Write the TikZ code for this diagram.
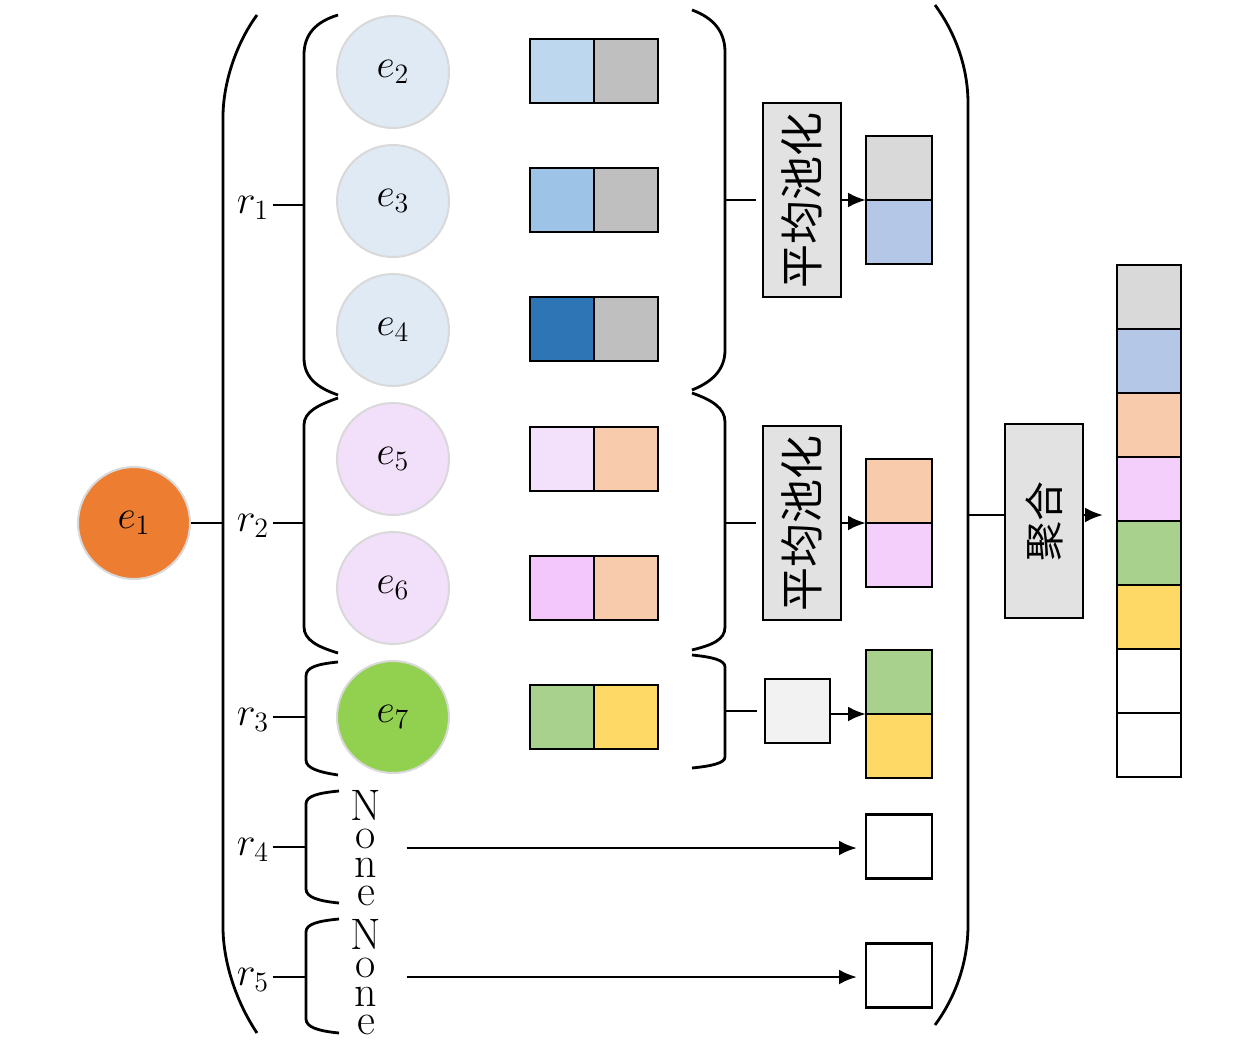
\RequirePackage{fix-cm}
\documentclass[tikz,border=0pt]{standalone}
\usepackage{fontspec}
\newfontfamily\cjk{Noto Sans CJK SC}
\usetikzlibrary{arrows.meta}
\definecolor{entborder}{HTML}{D9D9D9}
\definecolor{eorange}{HTML}{ED7D31}
\definecolor{eblue}{HTML}{DFEAF5}
\definecolor{epink}{HTML}{F2E0FB}
\definecolor{egreen}{HTML}{92D050}
\definecolor{cblueA}{HTML}{BDD7EE}
\definecolor{cblueB}{HTML}{9DC3E6}
\definecolor{cblueC}{HTML}{2E75B6}
\definecolor{cgray}{HTML}{BFBFBF}
\definecolor{cpinkA}{HTML}{F3E1FC}
\definecolor{cpinkB}{HTML}{F4C7FC}
\definecolor{cpeach}{HTML}{F8CBAD}
\definecolor{cgreen}{HTML}{A9D18E}
\definecolor{cyellow}{HTML}{FFD966}
\definecolor{ogray}{HTML}{D9D9D9}
\definecolor{oblue}{HTML}{B4C7E7}
\definecolor{opink}{HTML}{F4CFFB}
\definecolor{poolgray}{HTML}{E2E2E2}
\definecolor{boxlight}{HTML}{F2F2F2}
\begin{document}
\begin{tikzpicture}[x=0.5pt,y=-0.5pt,line width=1.4pt,
  ent/.style={circle,draw=entborder,line width=1pt,minimum size=56pt,inner sep=0pt,font=\fontsize{20}{24}\selectfont},
  cell/.style={draw=black,line width=1.4pt,minimum width=32pt,minimum height=32pt,inner sep=0pt,outer sep=0pt},
  ocell/.style={cell,minimum width=33pt},
  rlab/.style={inner sep=1pt,font=\fontsize{20}{24}\selectfont},
  nonelab/.style={align=center,inner sep=0pt,font=\fontsize{22}{14.25}\selectfont},
  pool/.style={draw=black,line width=1.4pt,fill=poolgray,minimum width=39pt,minimum height=97pt,inner sep=0pt,font=\fontsize{22}{26}\cjk},
  arr/.style={-{Latex[length=9pt,width=7.5pt]}},
]
\useasboundingbox (0,0) rectangle (1260,1044);

% central entity
\node[ent,fill=eorange] (e1) at (134,523) {$e_1$};

% big parentheses
\draw (257,15) .. controls (235,45) and (223,85) .. (223,117) -- (223,927) .. controls (223,960) and (235,1000) .. (257,1033);
\draw (935,5) .. controls (957,35) and (968,70) .. (968,103) -- (968,925) .. controls (968,960) and (957,995) .. (935,1025);
\coordinate (pl) at (223,523);
\coordinate (pr) at (968,515);
\draw (e1) -- (pl);

% relation labels
\node[rlab] (r1) at (253,208) {$r_1$};
\node[rlab] (r2) at (253,526) {$r_2$};
\node[rlab] (r3) at (253,720) {$r_3$};
\node[rlab] (r4) at (253,850) {$r_4$};
\node[rlab] (r5) at (253,980) {$r_5$};

% left braces
\draw (338,15) .. controls (315,22) and (304,35) .. (304,55) -- (304,358) .. controls (304,378) and (318,388) .. (338,395);
\draw (338,398) .. controls (318,405) and (304,412) .. (304,425) -- (304,627) .. controls (304,640) and (318,647) .. (338,653);
\draw (338,662) .. controls (318,664) and (306,667) .. (306,676) -- (306,760) .. controls (306,768) and (318,772) .. (338,775);
\draw (339,791) .. controls (318,793) and (306,796) .. (306,804) -- (306,889) .. controls (306,897) and (318,901) .. (339,903);
\draw (339,919) .. controls (318,921) and (306,924) .. (306,932) -- (306,1019) .. controls (306,1027) and (318,1031) .. (339,1033);
\coordinate (bl1) at (304,205);
\coordinate (bl2) at (304,523);
\coordinate (bl3) at (306,717);
\coordinate (bl4) at (306,847);
\coordinate (bl5) at (306,977);
\draw (r1.east |- bl1) -- (bl1);
\draw (r2.east |- bl2) -- (bl2);
\draw (r3.east |- bl3) -- (bl3);
\draw (r4.east |- bl4) -- (bl4);
\draw (r5.east |- bl5) -- (bl5);

% right braces
\draw (692,10) .. controls (714,18) and (725,32) .. (725,52) -- (725,350) .. controls (725,370) and (712,382) .. (692,390);
\draw (692,393) .. controls (712,400) and (725,408) .. (725,422) -- (725,627) .. controls (725,640) and (712,645) .. (692,650);
\draw (692,655) .. controls (712,657) and (725,660) .. (725,667) -- (725,757) .. controls (725,763) and (712,766) .. (692,768);
\coordinate (br1) at (725,200);
\coordinate (br2) at (725,523);
\coordinate (br3) at (725,711);

% entities
\node[ent,fill=eblue] (e2) at (393,72) {$e_2$};
\node[ent,fill=eblue] (e3) at (393,201) {$e_3$};
\node[ent,fill=eblue] (e4) at (393,330) {$e_4$};
\node[ent,fill=epink] (e5) at (393,459) {$e_5$};
\node[ent,fill=epink] (e6) at (393,588) {$e_6$};
\node[ent,fill=egreen] (e7) at (393,717) {$e_7$};

% entity embeddings
\node[cell,fill=cblueA] (c2a) at (562,71) {};
\node[cell,fill=cgray] (c2b) at (626,71) {};
\node[cell,fill=cblueB] (c3a) at (562,200) {};
\node[cell,fill=cgray] (c3b) at (626,200) {};
\node[cell,fill=cblueC] (c4a) at (562,329) {};
\node[cell,fill=cgray] (c4b) at (626,329) {};
\node[cell,fill=cpinkA] (c5a) at (562,459) {};
\node[cell,fill=cpeach] (c5b) at (626,459) {};
\node[cell,fill=cpinkB] (c6a) at (562,588) {};
\node[cell,fill=cpeach] (c6b) at (626,588) {};
\node[cell,fill=cgreen] (c7a) at (562,717) {};
\node[cell,fill=cyellow] (c7b) at (626,717) {};

% None
\node[nonelab] (n4) at (366,848) {N\\o\\n\\e};
\node[nonelab] (n5) at (366,977) {N\\o\\n\\e};

% pooling
\node[pool] (p1) at (802,200) {\rotatebox{90}{平均池化}};
\node[pool] (p2) at (802,523) {\rotatebox{90}{平均池化}};
\node[cell,fill=boxlight,minimum width=32.5pt] (p3) at (797.5,711) {};
\draw[shorten >=3pt] (br1) -- (p1.west |- br1);
\draw[shorten >=3pt] (br2) -- (p2.west |- br2);
\draw[shorten >=4pt] (br3) -- (p3.west |- br3);

% pooled outputs
\node[ocell,fill=ogray] (o1a) at (899,168) {};
\node[ocell,fill=oblue] (o1b) at (899,232) {};
\node[ocell,fill=cpeach] (o2a) at (899,491) {};
\node[ocell,fill=opink] (o2b) at (899,555) {};
\node[ocell,fill=cgreen] (o3a) at (899,682) {};
\node[ocell,fill=cyellow] (o3b) at (899,746) {};
\node[ocell,fill=white] (o4) at (899,846.5) {};
\node[ocell,fill=white] (o5) at (899,975.5) {};
\draw[arr] (p1.east |- o1a.south west) -- (o1a.south west);
\draw[arr] (p2.east |- o2a.south west) -- (o2a.south west);
\draw[arr] (p3.east |- o3a.south west) -- (o3a.south west);
\draw[arr,shorten >=4.5pt] ([xshift=12pt]n4.east) -- (n4.east -| o4.west);
\draw[arr,shorten >=4.5pt] ([xshift=12pt]n5.east) -- (n5.east -| o5.west);

% aggregation
\node[pool,font=\fontsize{20}{24}\cjk] (agg) at (1044,521) {\rotatebox{90}{聚合}};
\draw (pr) -- (agg.west |- pr);

% final vector
\node[cell,fill=ogray] (f1) at (1149,297) {};
\node[cell,fill=oblue] (f2) at (1149,361) {};
\node[cell,fill=cpeach] (f3) at (1149,425) {};
\node[cell,fill=opink] (f4) at (1149,489) {};
\node[cell,fill=cgreen] (f5) at (1149,553) {};
\node[cell,fill=cyellow] (f6) at (1149,617) {};
\node[cell,fill=white] (f7) at (1149,681) {};
\node[cell,fill=white] (f8) at (1149,745) {};
\draw[arr,shorten >=7pt] (agg.east |- pr) -- (f1.west |- pr);
\end{tikzpicture}
\end{document}
